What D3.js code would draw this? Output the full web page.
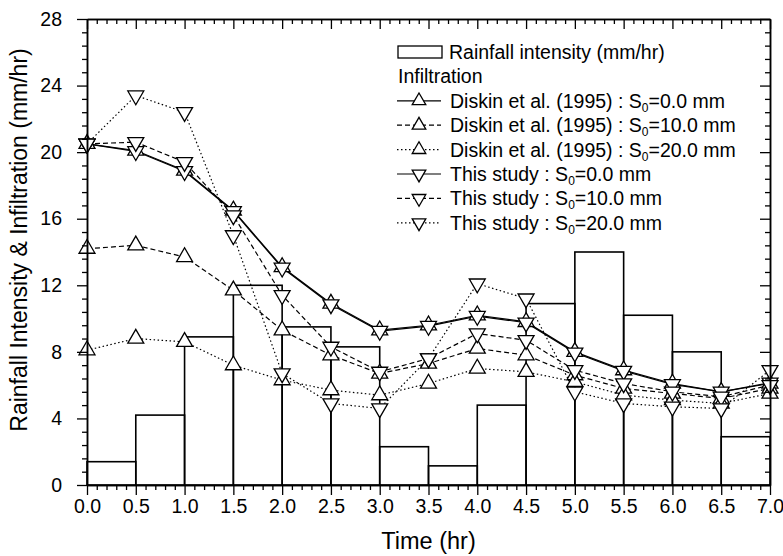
<!DOCTYPE html>
<html>
<head>
<meta charset="utf-8">
<script src="https://cdn.jsdelivr.net/npm/d3@7"></script>
<style>
  body { margin: 0; background: #fff; }
  text { font-family: "Liberation Sans", Arial, sans-serif; fill: #000; }
</style>
</head>
<body>
<svg id="chart" width="783" height="556"></svg>
<script>
// time steps (hr)
const time = [0, 0.5, 1.0, 1.5, 2.0, 2.5, 3.0, 3.5, 4.0, 4.5, 5.0, 5.5, 6.0, 6.5, 7.0];

// rainfall intensity per half hour block (mm/hr)
const rainStart = [0, 0.5, 1.0, 1.5, 2.0, 2.5, 3.0, 3.5, 4.0, 4.5, 5.0, 5.5, 6.0, 6.5];
const rainfall = [1.4, 4.2, 8.9, 12.0, 9.5, 8.3, 2.3, 1.15, 4.8, 10.9, 14.0, 10.2, 8.0, 2.9];

// infiltration series (mm/hr)
const diskin0 = [20.5, 20.1, 18.9, 16.5, 13.1, 10.9, 9.3, 9.6, 10.2, 9.8, 8.0, 6.9, 6.1, 5.6, 6.1];
const diskin10 = [14.2, 14.4, 13.7, 11.7, 9.3, 7.8, 6.7, 7.3, 8.2, 7.8, 6.6, 5.8, 5.5, 5.2, 5.8];
const diskin20 = [8.1, 8.8, 8.6, 7.2, 6.3, 5.7, 5.4, 6.1, 7.0, 6.8, 6.2, 5.4, 5.1, 4.9, 5.5];
const study0 = [20.5, 20.05, 18.85, 16.45, 13.05, 10.85, 9.25, 9.55, 10.15, 9.75, 7.95, 6.85, 6.05, 5.6, 6.15];
const study10 = [20.5, 20.6, 19.4, 16.2, 11.4, 8.3, 6.8, 7.6, 9.1, 8.7, 6.9, 6.1, 5.6, 5.3, 6.0];
const study20 = [20.5, 23.4, 22.4, 15.0, 6.7, 4.9, 4.6, 7.6, 12.1, 11.2, 5.6, 4.9, 4.7, 4.6, 6.9];

// tick labels
const xTicks = [0, 0.5, 1.0, 1.5, 2.0, 2.5, 3.0, 3.5, 4.0, 4.5, 5.0, 5.5, 6.0, 6.5, 7.0];
const yTicks = [0, 4, 8, 12, 16, 20, 24, 28];

const seriesNames = [
  "Diskin et al. (1995) : S|0|=0.0 mm",
  "Diskin et al. (1995) : S|0|=10.0 mm",
  "Diskin et al. (1995) : S|0|=20.0 mm",
  "This study : S|0|=0.0 mm",
  "This study : S|0|=10.0 mm",
  "This study : S|0|=20.0 mm"
];

const svg = d3.select("#chart");
const mLeft = 87, mRight = 770, mTop = 19, mBottom = 485;
const width = mRight - mLeft;
const height = mBottom - mTop;

const xScale = d3.scaleLinear().domain([0, 7]).range([0, width]);
const yScale = d3.scaleLinear().domain([0, 28]).range([height, 0]);

const g = svg.append("g").attr("transform", "translate(" + mLeft + "," + mTop + ")");

// rainfall bars (outline only)
g.append("g")
  .selectAll("rect")
  .data(rainfall)
  .enter()
  .append("rect")
  .attr("x", function (d, i) { return xScale(rainStart[i]); })
  .attr("width", function (d, i) { return xScale(rainStart[i] + 0.5) - xScale(rainStart[i]); })
  .attr("y", function (d) { return yScale(d); })
  .attr("height", function (d) { return yScale(0) - yScale(d); })
  .attr("fill", "none")
  .attr("stroke", "#000")
  .attr("stroke-width", 1.6);

// series style: dash + marker direction
const series = [
  { values: diskin0, dash: null, up: true },
  { values: diskin10, dash: "5,3", up: true },
  { values: diskin20, dash: "1.5,2.5", up: true },
  { values: study0, dash: null, up: false },
  { values: study10, dash: "5,3", up: false },
  { values: study20, dash: "1.5,2.5", up: false }
];

const line = d3.line()
  .x(function (d, i) { return xScale(time[i]); })
  .y(function (d) { return yScale(d); });

series.forEach(function (s) {
  g.append("path")
    .datum(s.values)
    .attr("fill", "none")
    .attr("stroke", "#000")
    .attr("stroke-width", 1.2)
    .attr("stroke-dasharray", s.dash)
    .attr("d", line);
});

const tri = d3.symbol().type(d3.symbolTriangle).size(110);
const triSmall = d3.symbol().type(d3.symbolTriangle).size(80);

function marker(sel, up, shape) {
  sel.append("path")
    .attr("d", shape || tri)
    .attr("transform", function (d) {
      return "translate(" + d[0] + "," + d[1] + ")" + (up ? "" : " rotate(180)");
    })
    .attr("fill", "#fff")
    .attr("stroke", "#000")
    .attr("stroke-width", 1.3);
}

series.forEach(function (s) {
  s.values.forEach(function (v, i) {
    g.append("g").datum([xScale(time[i]), yScale(v)]).call(marker, s.up);
  });
});

// axes
const xMinor = d3.range(0, 70.5, 1).map(function (d) { return d / 10; })
  .filter(function (d) { return Math.round(d * 10) % 5 !== 0; });
const yMinor = d3.range(0, 35.5, 1).map(function (d) { return d * 0.8; })
  .filter(function (d) { return Math.round(d * 10) % 40 !== 0; });

function styleAxis(a) {
  a.selectAll("path").attr("stroke", "#000").attr("stroke-width", 1.5);
  a.selectAll("line").attr("stroke", "#000").attr("stroke-width", 1.3);
  a.selectAll("text").style("font-size", "19.5px").attr("fill", "#000");
}

// bottom
g.append("g").attr("transform", "translate(0," + height + ")")
  .call(d3.axisBottom(xScale).tickValues(xMinor).tickSize(5).tickFormat("").tickSizeOuter(0))
  .call(styleAxis);
g.append("g").attr("transform", "translate(0," + height + ")")
  .call(d3.axisBottom(xScale).tickValues(xTicks).tickSize(10).tickPadding(4).tickFormat(d3.format(".1f")).tickSizeOuter(0))
  .call(styleAxis);
// top
g.append("g")
  .call(d3.axisBottom(xScale).tickValues(xMinor).tickSize(5).tickFormat("").tickSizeOuter(0))
  .call(styleAxis);
g.append("g")
  .call(d3.axisBottom(xScale).tickValues(xTicks).tickSize(10).tickFormat("").tickSizeOuter(0))
  .call(styleAxis);
// left
g.append("g")
  .call(d3.axisLeft(yScale).tickValues(yMinor).tickSize(5).tickFormat("").tickSizeOuter(0))
  .call(styleAxis);
g.append("g")
  .call(d3.axisLeft(yScale).tickValues(yTicks).tickSize(10).tickPadding(15).tickFormat(d3.format("d")).tickSizeOuter(0))
  .call(styleAxis);
// right
g.append("g").attr("transform", "translate(" + width + ",0)")
  .call(d3.axisLeft(yScale).tickValues(yMinor).tickSize(5).tickFormat("").tickSizeOuter(0))
  .call(styleAxis);
g.append("g").attr("transform", "translate(" + width + ",0)")
  .call(d3.axisLeft(yScale).tickValues(yTicks).tickSize(10).tickFormat("").tickSizeOuter(0))
  .call(styleAxis);

// axis titles
svg.append("text")
  .attr("x", mLeft + width / 2)
  .attr("y", 549)
  .attr("text-anchor", "middle")
  .style("font-size", "23.5px")
  .text("Time (hr)");

svg.append("text")
  .attr("transform", "translate(27,240) rotate(-90)")
  .attr("text-anchor", "middle")
  .style("font-size", "23px")
  .text("Rainfall Intensity & Infiltration (mm/hr)");

// legend
const lg = svg.append("g");
const rowY = function (i) { return 52 + 24.4 * i; };
lg.append("rect")
  .attr("x", 398).attr("y", rowY(0) - 6)
  .attr("width", 44).attr("height", 12)
  .attr("fill", "#fff").attr("stroke", "#000").attr("stroke-width", 1.3);
lg.append("text").attr("x", 449).attr("y", rowY(0) + 7)
  .style("font-size", "19.5px").text("Rainfall intensity (mm/hr)");
lg.append("text").attr("x", 398).attr("y", rowY(1) + 7)
  .style("font-size", "19.5px").text("Infiltration");

series.forEach(function (s, i) {
  const y = rowY(i + 2);
  lg.append("line")
    .attr("x1", 397).attr("x2", 441).attr("y1", y).attr("y2", y)
    .attr("stroke", "#000").attr("stroke-width", 1.2)
    .attr("stroke-dasharray", s.dash);
  lg.append("g").datum([419, y]).call(marker, s.up, triSmall);
  const parts = seriesNames[i].split("|");
  const t = lg.append("text").attr("x", 450).attr("y", y + 7).style("font-size", "19.5px");
  t.append("tspan").text(parts[0]);
  t.append("tspan").attr("dy", 4).style("font-size", "12px").text(parts[1]);
  t.append("tspan").attr("dy", -4).text(parts[2]);
});
</script>
</body>
</html>
